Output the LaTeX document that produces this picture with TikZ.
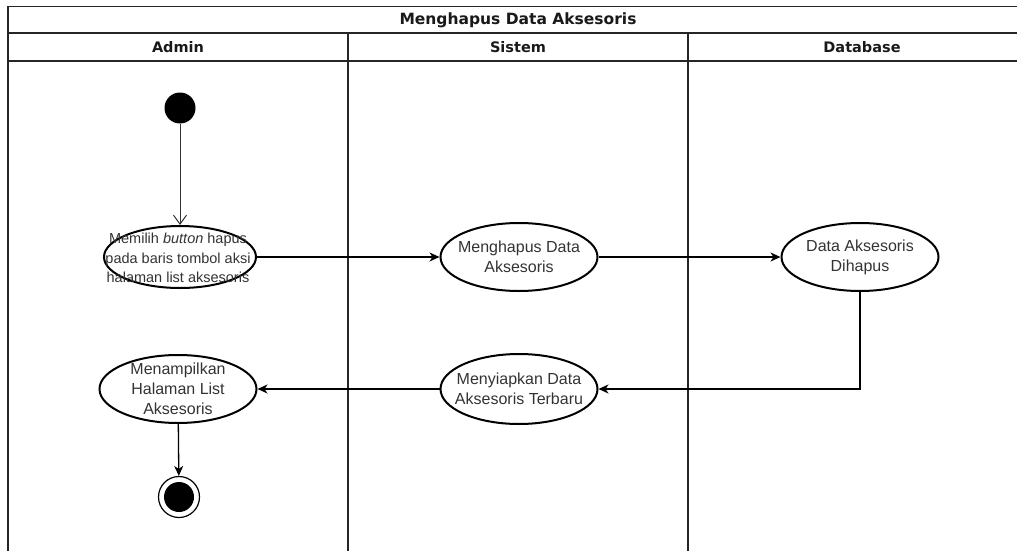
\documentclass[tikz,border=0pt]{standalone}
\usepackage{fontspec}
\setmainfont{Liberation Sans}
\newfontfamily\hdrfont{DejaVu Sans}
\usetikzlibrary{arrows.meta,shapes.geometric}
\begin{document}
\begin{tikzpicture}[x=1pt,y=-1pt,
  lane/.style={line width=1.3pt, draw=black!85},
  act/.style={ellipse, draw, line width=2pt, minimum width=157pt, minimum height=68pt, inner sep=0pt},
  acttext/.style={align=center, inner sep=0pt, font=\fontsize{16}{20}\selectfont, text=black!80},
  hdr/.style={font=\hdrfont\bfseries\fontsize{14.5}{16}\selectfont, text=black!90},
  conn/.style={line width=1.3pt, -{Stealth[length=10pt,width=9pt,inset=3pt]}}
]
\useasboundingbox (0,0) rectangle (1017,551);
\clip (0,0) rectangle (1017,551);
% swimlane frame
\draw[lane] (8,551) -- (8,6.7) -- (1030,6.7);
\draw[lane] (8,33) -- (1030,33);
\draw[lane] (8,61) -- (1030,61);
\draw[lane] (348,33) -- (348,551);
\draw[lane] (688,33) -- (688,551);
\node[hdr, font=\hdrfont\bfseries\fontsize{15.5}{17}\selectfont] (title) at (518,20) {Menghapus Data Aksesoris};
\node[hdr] (hadmin) at (178,47) {Admin};
\node[hdr] (hsistem) at (518,47) {Sistem};
\node[hdr] (hdb) at (862,47) {Database};
% nodes
\node[circle, fill=black, minimum size=31pt, inner sep=0pt] (start) at (180,108) {};
\node[act, minimum width=152pt, minimum height=62pt] (A) at (180,257) {};
\node[align=center, inner sep=0pt, font=\fontsize{14.5}{19.5}\selectfont, text=black!80] (At) at (178,258) {Memilih \textit{button} hapus\\pada baris tombol aksi\\halaman list aksesoris};
\node[act] (B) at (519,257) {};
\node[acttext] (Bt) at (B) {Menghapus Data\\Aksesoris};
\node[act] (C) at (860,257) {};
\node[acttext] (Ct) at (C) {Data Aksesoris\\Dihapus};
\node[act, minimum height=70pt] (D) at (519,389) {};
\node[acttext] (Dt) at (D) {Menyiapkan Data\\Aksesoris Terbaru};
\node[act] (E) at (178,389) {};
\node[acttext] (Et) at (E) {Menampilkan\\Halaman List\\Aksesoris};
\node[circle, draw, line width=1.2pt, minimum size=41pt, inner sep=0pt] (end) at (179,497) {};
\node[circle, fill=black, minimum size=30pt, inner sep=0pt] (endin) at (end) {};
% connectors
\draw[line width=1pt, draw=black!80, -{Straight Barb[length=9pt,width=13pt]}] (start) -- (A);
\draw[conn] (A) -- (B);
\draw[conn] (B) -- (C);
\draw[conn] (C.south) |- (D.east);
\draw[conn] (D) -- (E);
\draw[conn] (E) -- (end);
\end{tikzpicture}
\end{document}
